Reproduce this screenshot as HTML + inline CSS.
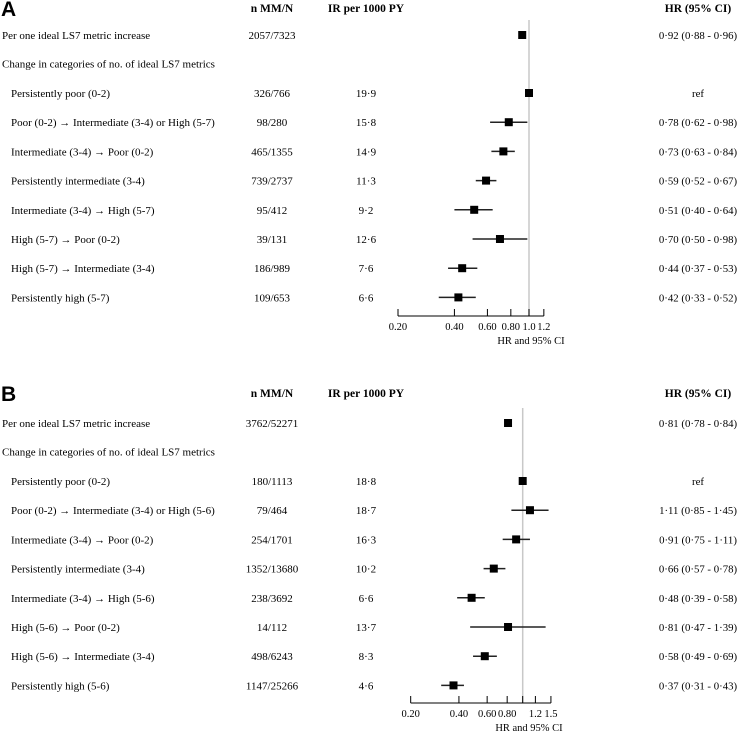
<!DOCTYPE html>
<html><head><meta charset="utf-8"><style>
html,body{margin:0;padding:0;background:#fff;}
svg{display:block;font-family:"Liberation Serif",serif;}
</style></head><body>
<svg id="chart" width="740" height="735" viewBox="0 0 740 735"></svg>
<script>
const labels = ["Per one ideal LS7 metric increase","Change in categories of no. of ideal LS7 metrics","Persistently poor (0-2)","Poor (0-2) \u2192 Intermediate (3-4) or High (5-7)","Intermediate (3-4) \u2192 Poor (0-2)","Persistently intermediate (3-4)","Intermediate (3-4) \u2192 High (5-7)","High (5-7) \u2192 Poor (0-2)","High (5-7) \u2192 Intermediate (3-4)","Persistently high (5-7)"];
const labelsB = ["Per one ideal LS7 metric increase","Change in categories of no. of ideal LS7 metrics","Persistently poor (0-2)","Poor (0-2) \u2192 Intermediate (3-4) or High (5-6)","Intermediate (3-4) \u2192 Poor (0-2)","Persistently intermediate (3-4)","Intermediate (3-4) \u2192 High (5-6)","High (5-6) \u2192 Poor (0-2)","High (5-6) \u2192 Intermediate (3-4)","Persistently high (5-6)"];
const nA = ["2057/7323","","326/766","98/280","465/1355","739/2737","95/412","39/131","186/989","109/653"];
const irA = ["","","19\u00b79","15\u00b78","14\u00b79","11\u00b73","9\u00b72","12\u00b76","7\u00b76","6\u00b76"];
const hrA = [0.92,null,1.0,0.78,0.73,0.59,0.51,0.70,0.44,0.42];
const loA = [0.88,null,1.0,0.62,0.63,0.52,0.40,0.50,0.37,0.33];
const hiA = [0.96,null,1.0,0.98,0.84,0.67,0.64,0.98,0.53,0.52];
const txtA = ["0\u00b792 (0\u00b788 - 0\u00b796)","","ref","0\u00b778 (0\u00b762 - 0\u00b798)","0\u00b773 (0\u00b763 - 0\u00b784)","0\u00b759 (0\u00b752 - 0\u00b767)","0\u00b751 (0\u00b740 - 0\u00b764)","0\u00b770 (0\u00b750 - 0\u00b798)","0\u00b744 (0\u00b737 - 0\u00b753)","0\u00b742 (0\u00b733 - 0\u00b752)"];
const ticksA = [0.2,0.4,0.6,0.8,1.0,1.2];
const tickLabA = ["0.20","0.40","0.60","0.80","1.0","1.2"];
const nB = ["3762/52271","","180/1113","79/464","254/1701","1352/13680","238/3692","14/112","498/6243","1147/25266"];
const irB = ["","","18\u00b78","18\u00b77","16\u00b73","10\u00b72","6\u00b76","13\u00b77","8\u00b73","4\u00b76"];
const hrB = [0.81,null,1.0,1.11,0.91,0.66,0.48,0.81,0.58,0.37];
const loB = [0.78,null,1.0,0.85,0.75,0.57,0.39,0.47,0.49,0.31];
const hiB = [0.84,null,1.0,1.45,1.11,0.78,0.58,1.39,0.69,0.43];
const txtB = ["0\u00b781 (0\u00b778 - 0\u00b784)","","ref","1\u00b711 (0\u00b785 - 1\u00b745)","0\u00b791 (0\u00b775 - 1\u00b711)","0\u00b766 (0\u00b757 - 0\u00b778)","0\u00b748 (0\u00b739 - 0\u00b758)","0\u00b781 (0\u00b747 - 1\u00b739)","0\u00b758 (0\u00b749 - 0\u00b769)","0\u00b737 (0\u00b731 - 0\u00b743)"];
const ticksB = [0.2,0.4,0.6,0.8,1.0,1.2,1.5];
const tickLabB = ["0.20","0.40","0.60","0.80","","1.2","1.5"];

const svg = document.getElementById('chart');
const NS = 'http://www.w3.org/2000/svg';
function mk(tag, attrs, text){
  const e = document.createElementNS(NS, tag);
  for (const k in attrs) e.setAttribute(k, attrs[k]);
  if (text !== undefined) e.textContent = text;
  svg.appendChild(e);
  return e;
}
function panel(o){
  const x = v => o.x1 + Math.log(v) * o.k;
  const rowY = i => i === 0 ? o.y0 : (i === 1 ? o.y0 + 28.5 : o.y0 + 58 + (i - 2) * 29.2);
  let e = mk('text',{x:1,y:o.hy+8,'font-family':'Liberation Sans, sans-serif','font-weight':'bold','font-size':21},o.letter);
   
  e = mk('text',{x:272,y:o.hy+4,'text-anchor':'middle','font-weight':'bold','font-size':11.5},'n MM/N');
   
  e = mk('text',{x:366,y:o.hy+4,'text-anchor':'middle','font-weight':'bold','font-size':11.5},'IR per 1000 PY');
   
  e = mk('text',{x:698,y:o.hy+4,'text-anchor':'middle','font-weight':'bold','font-size':11.5},'HR (95% CI)');
   
  e = mk('line',{x1:x(1),x2:x(1),y1:o.y0-15,y2:o.ay,stroke:'#c8c8c8','stroke-width':1.5});
   
  for (let i=0;i<o.labels.length;i++){
    const y = rowY(i);
    e = mk('text',{x:(i<2?2:11),y:y+4,'font-size':11},o.labels[i]);
     
    e = mk('text',{x:272,y:y+4,'text-anchor':'middle','font-size':11},o.n[i]);
     
    e = mk('text',{x:366,y:y+4,'text-anchor':'middle','font-size':11},o.ir[i]);
     
    e = mk('text',{x:698,y:y+4,'text-anchor':'middle','font-size':10.8},o.txt[i]);
     
    if (o.hr[i] !== null){
      e = mk('line',{x1:x(o.lo[i]),x2:x(o.hi[i]),y1:y,y2:y,stroke:'#222','stroke-width':1.5});
       
      e = mk('rect',{x:x(o.hr[i])-4,y:y-4,width:8,height:8,fill:'#000'});
       
    }
  }
  e = mk('line',{x1:x(o.ticks[0]),x2:x(o.ticks[o.ticks.length-1]),y1:o.ay,y2:o.ay,stroke:'#000','stroke-width':1});
   
  for (let j=0;j<o.ticks.length;j++){
    e = mk('line',{x1:x(o.ticks[j]),x2:x(o.ticks[j]),y1:o.ay-7,y2:o.ay,stroke:'#000','stroke-width':1});
     
    e = mk('text',{x:x(o.ticks[j]),y:o.ay+14,'text-anchor':'middle','font-size':10.5},o.tickLab[j]);
     
  }
  e = mk('text',{x:o.titleX,y:o.ay+28,'text-anchor':'middle','font-size':10.5},'HR and 95% CI');
   
}
panel({letter:'A',hy:8,y0:35,x1:529,k:81.4,ay:316,labels:labels,n:nA,ir:irA,hr:hrA,lo:loA,hi:hiA,txt:txtA,ticks:ticksA,tickLab:tickLabA,titleX:531});
panel({letter:'B',hy:393,y0:423,x1:522.7,k:69.6,ay:703,labels:labelsB,n:nB,ir:irB,hr:hrB,lo:loB,hi:hiB,txt:txtB,ticks:ticksB,tickLab:tickLabB,titleX:529});
</script>
</body></html>
